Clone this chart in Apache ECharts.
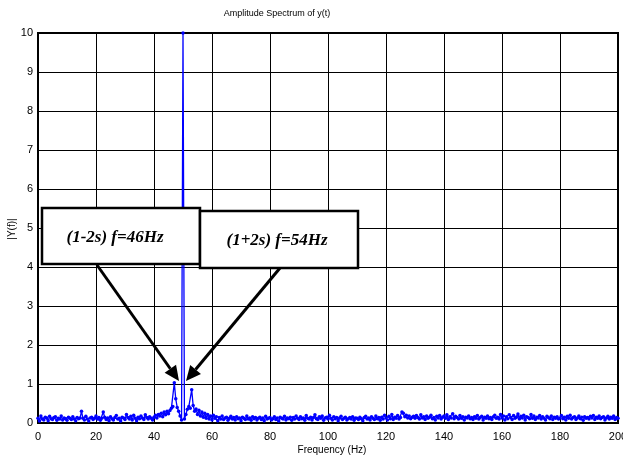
<!DOCTYPE html>
<html><head><meta charset="utf-8">
<script src="https://cdn.jsdelivr.net/npm/echarts@6/dist/echarts.min.js"></script>
<style>html,body{margin:0;padding:0;background:#fff}#c{width:623px;height:458px}</style>
</head><body><div id="c"></div>
<script>
var titleText = "Amplitude Spectrum of y(t)";
var xName = "Frequency (Hz)";
var yName = "|Y(f)|";
var freqStep = 0.5;
var amplitude = [
0.12,0.05,0.18,0.10,0.08,0.15,0.13,0.06,0.17,0.11,0.09,0.14,0.16,0.07,0.12,0.10,0.18,0.08,0.13,0.11,
0.07,0.15,0.12,0.09,0.16,0.10,0.06,0.14,0.11,0.13,0.30,0.12,0.08,0.17,0.10,0.05,0.13,0.15,0.09,0.12,
0.18,0.10,0.14,0.07,0.12,0.28,0.15,0.09,0.13,0.06,0.16,0.11,0.08,0.14,0.19,0.10,0.12,0.05,0.15,0.13,
0.09,0.22,0.14,0.10,0.17,0.08,0.20,0.12,0.06,0.15,0.11,0.18,0.13,0.09,0.21,0.14,0.10,0.16,0.12,0.08,
0.15,0.20,0.13,0.22,0.18,0.25,0.16,0.28,0.21,0.30,0.24,0.32,0.38,0.42,1.03,0.62,0.40,0.30,0.18,0.08,
10.0,0.10,0.22,0.35,0.42,0.38,0.85,0.45,0.30,0.36,0.22,0.33,0.18,0.28,0.15,0.25,0.12,0.22,0.10,0.18,
0.08,0.20,0.12,0.16,0.06,0.14,0.10,0.18,0.09,0.13,0.15,0.07,0.12,0.17,0.10,0.14,0.08,0.16,0.11,0.13,
0.06,0.15,0.12,0.09,0.18,0.10,0.13,0.07,0.16,0.11,0.14,0.08,0.12,0.15,0.09,0.13,0.06,0.17,0.10,0.12,
0.14,0.08,0.11,0.16,0.09,0.13,0.05,0.15,0.12,0.10,0.17,0.08,0.13,0.11,0.15,0.07,0.14,0.10,0.18,0.12,
0.09,0.16,0.11,0.13,0.07,0.19,0.12,0.10,0.15,0.08,0.14,0.21,0.11,0.09,0.16,0.12,0.18,0.07,0.13,0.15,
0.10,0.20,0.12,0.08,0.16,0.11,0.14,0.06,0.13,0.17,0.09,0.12,0.15,0.08,0.11,0.14,0.10,0.16,0.07,0.13,
0.12,0.09,0.15,0.11,0.06,0.14,0.17,0.10,0.13,0.08,0.16,0.12,0.09,0.18,0.11,0.14,0.07,0.15,0.10,0.20,
0.13,0.08,0.17,0.11,0.22,0.09,0.15,0.12,0.19,0.10,0.14,0.28,0.25,0.16,0.20,0.13,0.18,0.11,0.15,0.17,
0.12,0.19,0.14,0.10,0.21,0.13,0.16,0.09,0.18,0.12,0.15,0.20,0.11,0.14,0.08,0.17,0.13,0.19,0.10,0.15,
0.18,0.12,0.21,0.09,0.16,0.13,0.24,0.11,0.17,0.14,0.10,0.19,0.12,0.16,0.08,0.15,0.13,0.18,0.11,0.14,
0.09,0.16,0.12,0.19,0.10,0.14,0.17,0.08,0.15,0.12,0.18,0.11,0.14,0.09,0.16,0.20,0.12,0.15,0.10,0.22,
0.13,0.18,0.08,0.16,0.11,0.21,0.14,0.09,0.19,0.12,0.15,0.23,0.10,0.17,0.13,0.20,0.08,0.16,0.14,0.11,
0.22,0.12,0.18,0.09,0.15,0.13,0.19,0.10,0.16,0.12,0.08,0.17,0.14,0.11,0.18,0.09,0.15,0.12,0.16,0.10,
0.13,0.19,0.11,0.15,0.08,0.17,0.12,0.20,0.10,0.14,0.16,0.09,0.13,0.18,0.11,0.15,0.07,0.16,0.12,0.14,
0.10,0.17,0.13,0.19,0.09,0.15,0.12,0.18,0.11,0.14,0.16,0.08,0.13,0.17,0.10,0.15,0.12,0.18,0.09,0.14,
0.12
];
var xTicks = [0,20,40,60,80,100,120,140,160,180,200];
var yTicks = [0,1,2,3,4,5,6,7,8,9,10];
var note1 = "(1-2s) f=46Hz";
var note2 = "(1+2s) f=54Hz";

var data = amplitude.map(function(v,i){return [i*freqStep, v];});
var font = "'Liberation Sans Narrow','Liberation Sans',Arial,sans-serif";

function arrow(x1,y1,x2,y2){
  var dx=x2-x1, dy=y2-y1, L=Math.sqrt(dx*dx+dy*dy), ux=dx/L, uy=dy/L;
  var hl=15, hw=7;
  var bx=x2-ux*hl, by=y2-uy*hl;
  return [
    {type:'line', shape:{x1:x1,y1:y1,x2:bx,y2:by}, style:{stroke:'#000',lineWidth:3}, z:100},
    {type:'polygon', shape:{points:[[x2,y2],[bx-uy*hw,by+ux*hw],[bx+uy*hw,by-ux*hw]]}, style:{fill:'#000'}, z:100}
  ];
}

var chart = echarts.init(document.getElementById('c'));
var graphics = [
  {type:'text', x:277, y:14, style:{text:titleText, font:"9px "+font, fill:'#000', textAlign:'center', textVerticalAlign:'middle'}},
  {type:'text', x:332, y:450, style:{text:xName, font:"10px "+font, fill:'#000', textAlign:'center', textVerticalAlign:'middle'}},
  {type:'text', x:12, y:229, rotation:Math.PI/2, style:{text:yName, font:"10px "+font, fill:'#000', textAlign:'center', textVerticalAlign:'middle'}},
  {type:'rect', shape:{x:42,y:208,width:158,height:56}, style:{fill:'#fff',stroke:'#000',lineWidth:2.5}, z:90},
  {type:'text', x:115, y:238, style:{text:note1, font:"italic bold 17px 'Liberation Serif','Times New Roman',serif", fill:'#000', textAlign:'center', textVerticalAlign:'middle'}, z:91},
  {type:'rect', shape:{x:200,y:211,width:158,height:57}, style:{fill:'#fff',stroke:'#000',lineWidth:2.5}, z:92},
  {type:'text', x:277, y:241, style:{text:note2, font:"italic bold 17px 'Liberation Serif','Times New Roman',serif", fill:'#000', textAlign:'center', textVerticalAlign:'middle'}, z:93}
].concat(arrow(97,265,179,381)).concat(arrow(280,268,186,381));

chart.setOption({
  animation:false,
  backgroundColor:'#fff',
  grid:{left:38,right:5,top:33,bottom:35,show:true,borderColor:'#000',borderWidth:2,containLabel:false,outerBoundsMode:'none'},
  xAxis:{type:'value',min:0,max:200,interval:20,
    axisLine:{show:false},axisTick:{show:false},
    axisLabel:{color:'#000',fontSize:11,fontFamily:font,margin:8},
    splitLine:{show:true,lineStyle:{color:'#000',width:1}}},
  yAxis:{type:'value',min:0,max:10,interval:1,
    axisLine:{show:false},axisTick:{show:false},
    axisLabel:{color:'#000',fontSize:11,fontFamily:font,margin:5},
    splitLine:{show:true,lineStyle:{color:'#000',width:1}}},
  series:[{type:'line',data:data,symbol:'circle',symbolSize:3.5,
    lineStyle:{color:'#0000ff',width:1.3},itemStyle:{color:'#0000ff'},clip:true,z:5}],
  graphic:graphics
});
</script></body></html>
